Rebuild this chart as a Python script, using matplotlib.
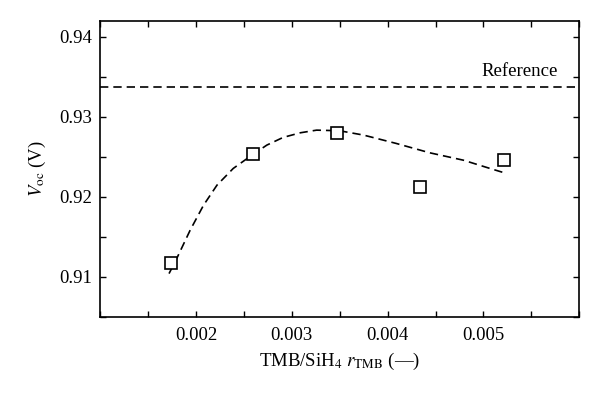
import matplotlib
matplotlib.use("Agg")
import matplotlib.pyplot as plt
from matplotlib.ticker import MultipleLocator

plt.rcParams['font.family'] = ['Liberation Serif', 'DejaVu Serif']
plt.rcParams['mathtext.fontset'] = 'stix'

# measured data
r_tmb = [0.00174, 0.00260, 0.00347, 0.00434, 0.00521]
voc = [0.91168, 0.92530, 0.92792, 0.92125, 0.92459]

# fitted trend curve
fit_x = [0.00172, 0.00180, 0.00194, 0.00208, 0.00222, 0.00239, 0.00256, 0.00274,
         0.00291, 0.00309, 0.00326, 0.00350, 0.00375, 0.00409, 0.00444, 0.00479,
         0.00507, 0.00524]
fit_y = [0.91042, 0.91230, 0.91583, 0.91896, 0.92146, 0.92355, 0.92500, 0.92646,
         0.92742, 0.92800, 0.92833, 0.92825, 0.92771, 0.92667, 0.92550, 0.92458,
         0.92354, 0.92292]

reference_voc = 0.93367
reference_label = "Reference"

FS = 13.5

fig = plt.figure(figsize=(6.0, 3.97), dpi=100)
ax = fig.add_axes([0.1667, 0.2015, 0.7988, 0.7465])

ax.axhline(reference_voc, color='black', lw=1.2, ls=(0, (5, 3)))
ax.plot(fit_x, fit_y, color='black', lw=1.2, ls=(0, (5, 3)))
ax.plot(r_tmb, voc, ls='none', marker='s', ms=8.5, mfc='white', mec='black', mew=1.2)
ax.text(0.00578, 0.93562, reference_label, ha='right', va='center', fontsize=FS)

ax.set_xlim(0.001, 0.006)
ax.set_ylim(0.905, 0.942)
ax.set_xticks([0.002, 0.003, 0.004, 0.005])
ax.set_xticklabels(['0.002', '0.003', '0.004', '0.005'])
ax.set_yticks([0.91, 0.92, 0.93, 0.94])
ax.set_yticklabels(['0.91', '0.92', '0.93', '0.94'])
ax.xaxis.set_minor_locator(MultipleLocator(0.0005))
ax.yaxis.set_minor_locator(MultipleLocator(0.005))
ax.tick_params(which='both', direction='in', top=True, right=True, length=4, width=1.0, labelsize=FS)
ax.tick_params(axis='x', pad=7)
ax.tick_params(axis='y', pad=6)
for s in ax.spines.values():
    s.set_linewidth(1.2)

ax.set_xlabel(r'TMB/SiH$_4$ $r_{\mathrm{TMB}}$ (—)', fontsize=FS, labelpad=5)
ax.set_ylabel(r'$V_{\mathrm{oc}}$ (V)', fontsize=FS, labelpad=8)

fig.savefig('out.png', dpi=100, facecolor='white')
